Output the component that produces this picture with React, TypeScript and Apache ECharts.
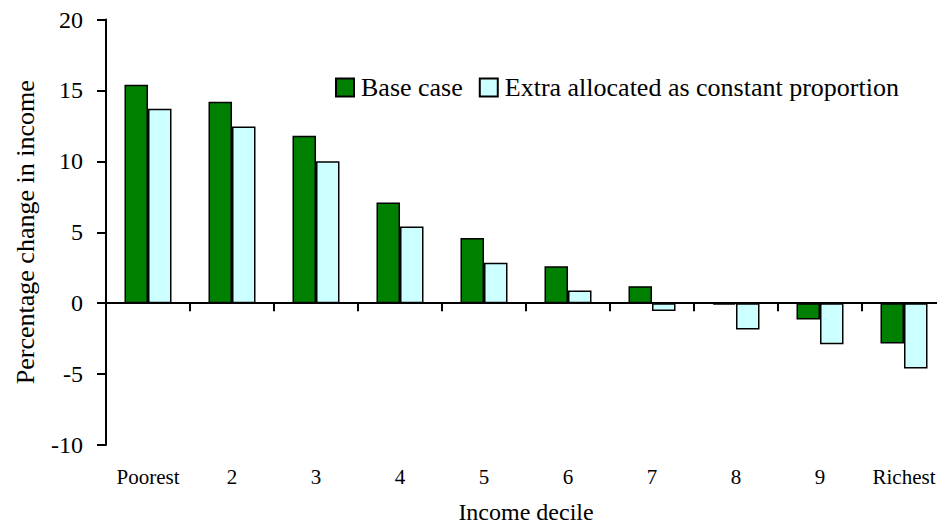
import React, { useEffect, useRef } from "react";
import * as echarts from "echarts";

// Income deciles along the horizontal axis
const deciles = ["Poorest", "2", "3", "4", "5", "6", "7", "8", "9", "Richest"];

// Percentage change in income per decile
const baseCase = [15.4, 14.2, 11.8, 7.1, 4.6, 2.6, 1.2, -0.1, -1.15, -2.85];
const extraConstant = [13.7, 12.45, 10.0, 5.4, 2.85, 0.9, -0.55, -1.85, -2.9, -4.6];

const seriesNames = ["Base case", "Extra allocated as constant proportion"];

const yMin = -10;
const yMax = 20;
const yStep = 5;

const FONT = "Liberation Serif";

export default function App() {
  const ref = useRef<HTMLDivElement>(null);

  useEffect(() => {
    if (!ref.current) return;
    const chart = echarts.init(ref.current, undefined, { renderer: "svg" });
    chart.setOption({
      animation: false,
      backgroundColor: "#ffffff",
      textStyle: { fontFamily: FONT, color: "#000" },
      grid: {
        left: 106,
        top: 19.5,
        width: 840,
        height: 425.5,
        containLabel: false,
        outerBoundsMode: "none",
      },
      legend: {
        left: 330,
        top: 69.5,
        icon: "rect",
        itemWidth: 18,
        itemHeight: 18,
        itemGap: 16,
        textStyle: { fontFamily: FONT, fontSize: 26, color: "#000", padding: [0, 0, 0, 2] },
        data: seriesNames,
      },
      xAxis: [
        {
          type: "category",
          data: deciles,
          position: "bottom",
          axisLine: { show: false, onZero: false },
          axisTick: { show: false },
          axisLabel: { interval: 0, fontFamily: FONT, fontSize: 21, color: "#000", margin: 21 },
          name: "Income decile",
          nameLocation: "middle",
          nameGap: 55,
          nameTextStyle: { fontFamily: FONT, fontSize: 24, color: "#000", verticalAlign: "top" },
          splitLine: { show: false },
        },
        {
          type: "category",
          data: deciles,
          position: "bottom",
          axisLine: { show: true, onZero: true, lineStyle: { color: "#000", width: 2 } },
          axisTick: { show: true, length: 8, inside: false, lineStyle: { color: "#000", width: 2 } },
          axisLabel: { show: false },
          splitLine: { show: false },
        },
      ],
      yAxis: {
        type: "value",
        min: yMin,
        max: yMax,
        interval: yStep,
        axisLine: { show: true, lineStyle: { color: "#000", width: 2 } },
        axisTick: { show: true, length: 9, inside: false, lineStyle: { color: "#000", width: 2 } },
        axisLabel: { fontFamily: FONT, fontSize: 24, color: "#000", margin: 23 },
        splitLine: { show: false },
        name: "Percentage change in income",
        nameLocation: "middle",
        nameRotate: 90,
        nameGap: 68,
        nameTextStyle: { fontFamily: FONT, fontSize: 26, color: "#000" },
      },
      series: [
        {
          name: seriesNames[0],
          type: "bar",
          xAxisIndex: 0,
          data: baseCase,
          barWidth: 23.5,
          barGap: "0%",
          itemStyle: { color: "#008000", borderColor: "#000", borderWidth: 1.5 },
        },
        {
          name: seriesNames[1],
          type: "bar",
          xAxisIndex: 0,
          data: extraConstant,
          barWidth: 23.5,
          barGap: "0%",
          itemStyle: { color: "#CCFFFF", borderColor: "#000", borderWidth: 1.5 },
        },
      ],
    });
    return () => chart.dispose();
  }, []);

  return (
    <div
      ref={ref}
      style={{ position: "absolute", left: 0, top: 0, width: 937, height: 526, overflow: "hidden" }}
    />
  );
}
